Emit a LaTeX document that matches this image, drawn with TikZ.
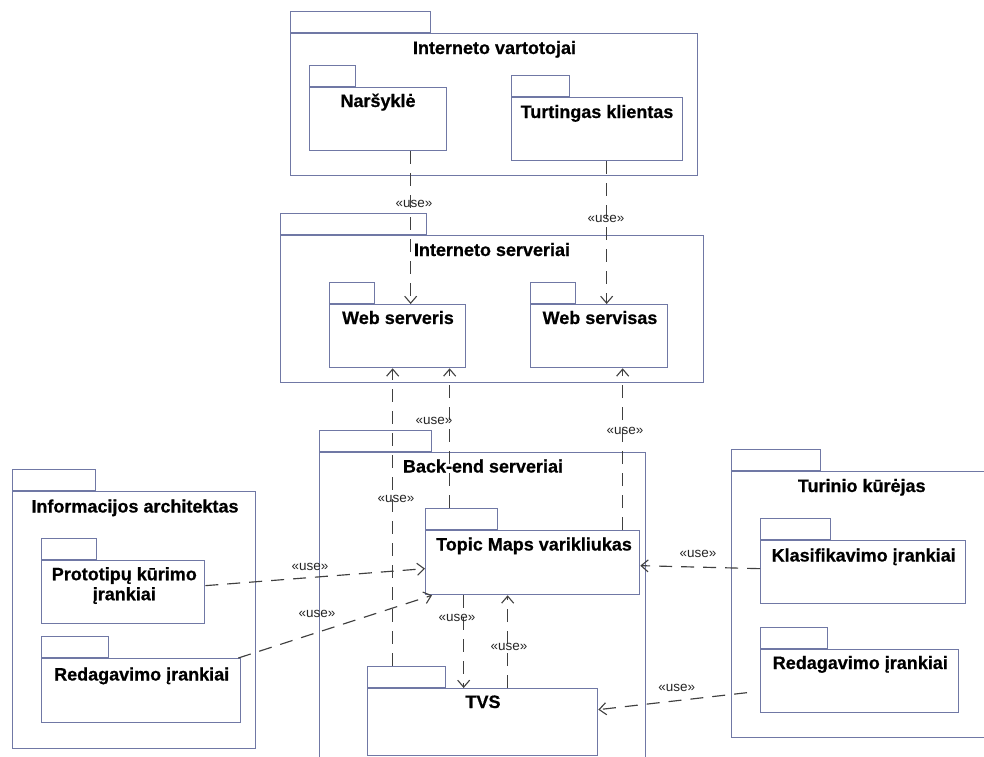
\documentclass[tikz,border=0pt]{standalone}
\usepackage{fontspec}
\setmainfont{Liberation Sans}
\newfontfamily\heavyfont[BoldFeatures={FakeBold=0.6}]{Liberation Sans}
\usetikzlibrary{arrows.meta}

\definecolor{pkgblue}{RGB}{112,120,165}
\definecolor{depgray}{RGB}{64,64,64}

\tikzset{
  pkgline/.style={draw=pkgblue, line width=1.3pt},
  pkgtitle/.style={anchor=base, inner sep=0pt, font=\heavyfont\fontsize{18}{20}\selectfont\bfseries, align=center},
  uselabel/.style={anchor=base, inner sep=0pt, font=\fontsize{13.5}{15}\selectfont, text=black!85},
  usedep/.style={draw=depgray, line width=1.15pt, dash pattern=on 13pt off 9pt,
    -{Straight Barb[length=7pt,width=12pt,line width=1.1pt]}},
}

% package: #1 name, #2 left x, #3 body top y, #4 right x, #5 bottom y, #6 tab right x
\newcommand\umlpackage[6]{%
  \node[pkgline, fill=white, anchor=south west, minimum width={(#6-#2)*1pt},
        minimum height=21pt, inner sep=0pt] (#1-tab) at (#2,#3) {};
  \node[pkgline, fill=white, anchor=north west, minimum width={(#4-#2)*1pt},
        minimum height={(#5-#3)*1pt}, inner sep=0pt] (#1) at (#2,#3) {};
}

\begin{document}
\begin{tikzpicture}[x=1pt, y=-1pt]
\useasboundingbox (0,0) rectangle (984,756);
\clip (0,0) rectangle (984,756);
\fill[white] (0,0) rectangle (984,756);

% outer packages
\umlpackage{iv}{290}{33}{697}{175}{430}
\umlpackage{is}{280}{235}{703}{382}{426}
\umlpackage{be}{319}{452}{645}{780}{431}
\umlpackage{ia}{12}{491}{255}{748}{95}
\umlpackage{tk}{731}{471}{1000}{737}{820}

% inner packages
\umlpackage{nar}{309}{87}{446}{150}{355}
\umlpackage{tur}{511}{97}{682}{160}{569}
\umlpackage{ws}{329}{304}{465}{367}{374}
\umlpackage{wsv}{530}{304}{667}{367}{575}
\umlpackage{tm}{425}{530}{639}{594}{497}
\umlpackage{tvs}{367}{688}{597}{755}{445}
\umlpackage{pro}{41}{560}{204}{623}{96}
\umlpackage{redl}{41}{658}{240}{722}{108}
\umlpackage{kla}{760}{540}{965}{603}{830}
\umlpackage{redr}{760}{649}{958}{712}{827}

% package names
\node[pkgtitle] (iv-t)   at (494.5,54)  {Interneto vartotojai};
\node[pkgtitle] (nar-t)  at (378,107)   {Naršyklė};
\node[pkgtitle] (tur-t)  at (597,118)   {Turtingas klientas};
\node[pkgtitle] (is-t)   at (492,256)   {Interneto serveriai};
\node[pkgtitle] (ws-t)   at (398,324)   {Web serveris};
\node[pkgtitle] (wsv-t)  at (600,324)   {Web servisas};
\node[pkgtitle] (be-t)   at (483,472.5) {Back-end serveriai};
\node[pkgtitle] (tm-t)   at (534,550.5) {Topic Maps varikliukas};
\node[pkgtitle] (tvs-t)  at (483,708)   {TVS};
\node[pkgtitle] (ia-t)   at (135,512.5) {Informacijos architektas};
\node[pkgtitle, anchor=north] (pro-t) at (124.3,567) {Prototipų kūrimo\\įrankiai};
\node[pkgtitle] (redl-t) at (141.7,680.5) {Redagavimo įrankiai};
\node[pkgtitle] (tk-t)   at (861.7,492) {Turinio kūrėjas};
\node[pkgtitle] (kla-t)  at (863.7,561.5) {Klasifikavimo įrankiai};
\node[pkgtitle] (redr-t) at (860.3,669)  {Redagavimo įrankiai};

% «use» dependencies
\draw[usedep] ([xshift=32.5pt]nar.south) -- ([xshift=13pt]ws.north);
\draw[usedep] ([xshift=9.5pt]tur.south) -- ([xshift=7.5pt]wsv.north);
\draw[usedep] ([xshift=-14pt]tvs-tab.north) -- ([xshift=-5pt]ws.south);
\draw[usedep] ([xshift=-12pt]tm-tab.north) -- ([xshift=52pt]ws.south);
\draw[usedep] ([xshift=90pt]tm.north) -- ([xshift=23.5pt]wsv.south);
\draw[usedep] ([yshift=6.5pt]pro.east) -- ([yshift=-6pt]tm.west);
\draw[usedep] ([xshift=-3pt]redl.north east) -- ([xshift=7pt]tm.south west);
\draw[usedep] ([yshift=3.5pt]kla.west) -- ([yshift=-3pt]tm.east);
\draw[usedep] ([shift={(-13pt,-11.5pt)}]redr.west) -- ([yshift=12.5pt]tvs.east);
\draw[usedep] ([xshift=-69pt]tm.south) -- ([xshift=-19pt]tvs.north);
\draw[usedep] ([xshift=25pt]tvs.north) -- ([xshift=-25pt]tm.south);

% dependency stereotypes
\node[uselabel] (u1)  at (414,207)   {«use»};
\node[uselabel] (u2)  at (606,222.5) {«use»};
\node[uselabel] (u3)  at (434,424)   {«use»};
\node[uselabel] (u4)  at (625,434.5) {«use»};
\node[uselabel] (u5)  at (396,502.5) {«use»};
\node[uselabel] (u6)  at (310,570.5) {«use»};
\node[uselabel] (u7)  at (317,617)   {«use»};
\node[uselabel] (u8)  at (457,621.5) {«use»};
\node[uselabel] (u9)  at (509,650.5) {«use»};
\node[uselabel] (u10) at (698,557.5) {«use»};
\node[uselabel] (u11) at (676.7,691.5) {«use»};
\end{tikzpicture}
\end{document}
